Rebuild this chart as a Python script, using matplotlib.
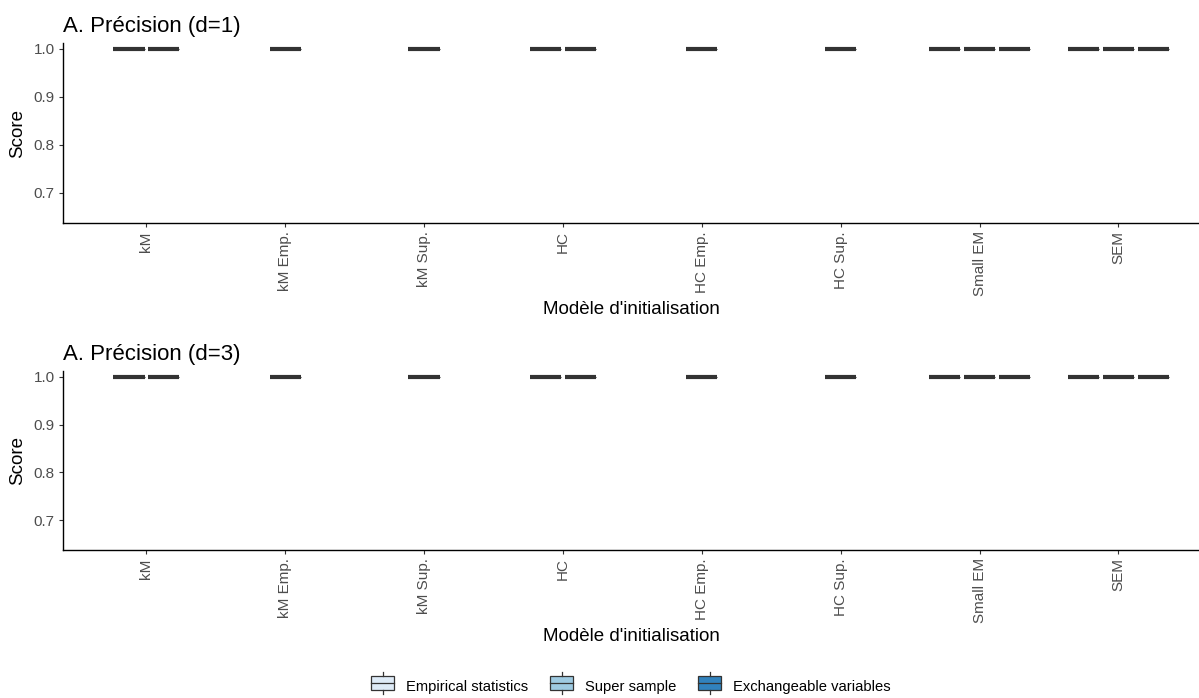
import matplotlib.pyplot as plt
from matplotlib.legend_handler import HandlerBase
from matplotlib.patches import Rectangle
from matplotlib.lines import Line2D

plt.rcParams['font.family'] = ['Liberation Sans', 'DejaVu Sans']

# categories on the x axis
models = ["kM", "kM Emp.", "kM Sup.", "HC", "HC Emp.", "HC Sup.", "Small EM", "SEM"]
groups = ["Empirical statistics", "Super sample", "Exchangeable variables"]
group_colors = ["#DEEBF7", "#9ECAE1", "#3182BD"]

# which groups appear for each model (dodged boxes)
present = [
    [0, 1],
    [0],
    [1],
    [0, 1],
    [0],
    [1],
    [0, 1, 2],
    [0, 1, 2],
]

# precision scores (all runs collapse to 1.0)
score_d1 = [[1.0, 1.0], [1.0], [1.0], [1.0, 1.0], [1.0], [1.0], [1.0, 1.0, 1.0], [1.0, 1.0, 1.0]]
score_d3 = [[1.0, 1.0], [1.0], [1.0], [1.0, 1.0], [1.0], [1.0], [1.0, 1.0, 1.0], [1.0, 1.0, 1.0]]

titles = ["A. Précision (d=1)", "A. Précision (d=3)"]
yticks = [0.7, 0.8, 0.9, 1.0]

W, H = 1199, 698
fig = plt.figure(figsize=(W / 100, H / 100), dpi=100)

TICK_COL = "#4D4D4D"
DARK = "#333333"


def box_panel(ax, scores, title):
    for i, (grp, vals) in enumerate(zip(present, scores)):
        n = len(grp)
        for j, (g, v) in enumerate(zip(grp, vals)):
            pos = i + 1 + (j - (n - 1) / 2) * 0.25
            stats = [dict(med=v, q1=v, q3=v, whislo=v, whishi=v, fliers=[])]
            ax.bxp(stats, positions=[pos], widths=0.225, patch_artist=True,
                   showfliers=False, manage_ticks=False,
                   boxprops=dict(facecolor=group_colors[g], edgecolor=DARK, linewidth=0.8),
                   medianprops=dict(color=DARK, linewidth=3.0, solid_capstyle="butt"),
                   whiskerprops=dict(color=DARK, linewidth=0.8),
                   capprops=dict(linewidth=0))
    ax.set_xlim(0.4, 8.58)
    ax.set_ylim(0.6375, 1.0125)
    ax.set_xticks(range(1, len(models) + 1))
    ax.set_xticklabels(models, rotation=90, color=TICK_COL, fontsize=11)
    ax.set_yticks(yticks)
    ax.set_yticklabels([f"{t:.1f}" for t in yticks], color=TICK_COL, fontsize=11)
    ax.tick_params(length=3, width=0.8, color=DARK, pad=3)
    for s in ["top", "right"]:
        ax.spines[s].set_visible(False)
    for s in ["left", "bottom"]:
        ax.spines[s].set_linewidth(1.0)
        ax.spines[s].set_color("black")
    ax.set_ylabel("Score", fontsize=13.5, labelpad=5)
    ax.set_xlabel("Modèle d'initialisation", fontsize=13.5, labelpad=3)
    ax.set_title(title, loc="left", fontsize=16, pad=8)


ax1 = fig.add_axes([63 / W, 1 - 223 / H, (W - 63) / W, 180 / H])
ax2 = fig.add_axes([63 / W, 1 - 550 / H, (W - 63) / W, 179 / H])
box_panel(ax1, score_d1, titles[0])
box_panel(ax2, score_d3, titles[1])


class BoxHandler(HandlerBase):
    def create_artists(self, legend, orig, xd, yd, width, height, fontsize, trans):
        fc = orig.get_facecolor()
        r = Rectangle((xd, yd - height * 0.05), width, height * 1.1,
                      facecolor=fc, edgecolor=DARK, linewidth=0.9, transform=trans)
        m = Line2D([xd, xd + width], [yd + height / 2] * 2,
                   color=DARK, linewidth=0.9, transform=trans)
        w1 = Line2D([xd + width / 2] * 2, [yd + height * 1.05, yd + height * 1.35],
                    color=DARK, linewidth=0.9, transform=trans)
        w2 = Line2D([xd + width / 2] * 2, [yd - height * 0.05, yd - height * 0.35],
                    color=DARK, linewidth=0.9, transform=trans)
        return [r, m, w1, w2]


handles = [Rectangle((0, 0), 1, 1, facecolor=c) for c in group_colors]
fig.legend(handles, groups, handler_map={Rectangle: BoxHandler()}, loc="center",
           bbox_to_anchor=(631 / W, 1 - 687 / H), ncol=3, frameon=False,
           fontsize=10.6, handlelength=1.55, handleheight=1.0, columnspacing=1.5,
           handletextpad=0.8)

fig.savefig("out.png", dpi=100)
